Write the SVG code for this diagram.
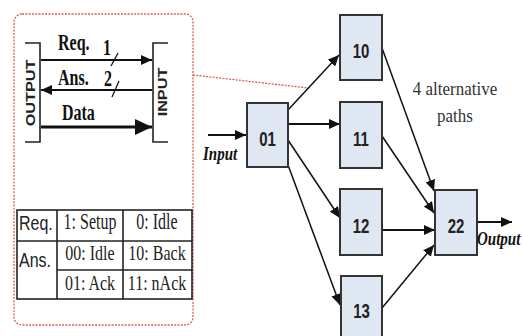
<svg xmlns="http://www.w3.org/2000/svg" width="523" height="336" viewBox="0 0 523 336">
<style>
.red{fill:none;stroke:#e05a5a;stroke-width:1.3;stroke-dasharray:2 1.3}
.node rect{fill:#dfe7f3;stroke:#333;stroke-width:2}
.nt{font-family:"Liberation Sans",Arial,sans-serif;font-weight:bold;font-size:15px;fill:#222;text-anchor:middle}
.ln{stroke:#111;fill:none}
.thin{stroke-width:1.5}
.thick{stroke-width:2.2}
.tb{font-family:"Liberation Serif","Times New Roman",serif;font-size:16px;fill:#222}
.tbb{font-family:"Liberation Serif","Times New Roman",serif;font-size:16px;font-weight:bold;fill:#111}
.ts{font-family:"Liberation Sans",Arial,sans-serif;font-size:16px;fill:#222}
.vt{font-family:"Liberation Sans",Arial,sans-serif;font-size:12.5px;font-weight:bold;fill:#222;text-anchor:middle}
.alt{font-family:"Liberation Serif","Times New Roman",serif;font-size:17px;fill:#333;text-anchor:middle}
.io{font-family:"Liberation Serif","Times New Roman",serif;font-size:15px;font-weight:bold;font-style:italic;fill:#111}
.grid{stroke:#222;stroke-width:1.6;fill:none}
</style>
<defs>
<marker id="ah" markerUnits="userSpaceOnUse" markerWidth="12" markerHeight="10" refX="11" refY="5" orient="auto">
<path d="M0,0 L11,5 L0,10 z" fill="#111"/>
</marker>
<marker id="ahb" markerUnits="userSpaceOnUse" markerWidth="18" markerHeight="16" refX="17" refY="8" orient="auto">
<path d="M0,0 L17,8 L0,16 z" fill="#111"/>
</marker>
</defs>
<rect width="523" height="336" fill="#fff"/>

<g id="panel">
<rect class="red" x="14" y="14" width="179" height="311" rx="8"/>
<line class="red" x1="193" y1="75" x2="308" y2="88"/>
<path class="grid" d="M25,43 H40 V142 H25"/>
<path class="grid" d="M168,43 H153 V142 H168"/>
<text class="vt" transform="translate(34.5 93) rotate(-90) scale(1.3 1)">OUTPUT</text>
<text class="vt" transform="translate(166.5 92) rotate(-90) scale(1.3 1)">INPUT</text>
<line class="ln" stroke-width="1.8" x1="41" y1="60" x2="152" y2="60" marker-end="url(#ah)"/>
<line class="ln" stroke-width="1.8" x1="152" y1="90" x2="41" y2="90" marker-end="url(#ah)"/>
<line class="ln" stroke-width="3" x1="41" y1="127" x2="152" y2="127" marker-end="url(#ahb)"/>
<line class="ln" stroke-width="1.3" x1="111" y1="66" x2="118" y2="53"/>
<line class="ln" stroke-width="1.3" x1="112" y1="97" x2="119" y2="81"/>
<text class="tbb" transform="translate(58 50) scale(1 1.4)">Req.</text>
<text class="tbb" transform="translate(103 55) scale(1 1.4)">1</text>
<text class="tbb" transform="translate(58 85) scale(1 1.4)">Ans.</text>
<text class="tbb" transform="translate(104 86) scale(1 1.4)">2</text>
<text class="tbb" transform="translate(62 120) scale(1 1.4)">Data</text>

<rect class="grid" x="17" y="210" width="175" height="89"/>
<line class="grid" x1="57" y1="210" x2="57" y2="299"/>
<line class="grid" x1="123" y1="210" x2="123" y2="299"/>
<line class="grid" stroke-width="2.4" x1="17" y1="241" x2="192" y2="241"/>
<line class="grid" stroke-width="2" x1="57" y1="270" x2="192" y2="270"/>
<text class="ts" transform="translate(19 230) scale(1 1.3)">Req.</text>
<text class="ts" transform="translate(19 267) scale(1 1.3)">Ans.</text>
<text class="tb" text-anchor="middle" transform="translate(90 229) scale(1 1.4)">1: Setup</text>
<text class="tb" text-anchor="middle" transform="translate(157 229) scale(1 1.4)">0: Idle</text>
<text class="tb" text-anchor="middle" transform="translate(90 260) scale(1 1.3)">00: Idle</text>
<text class="tb" text-anchor="middle" transform="translate(157 260) scale(1 1.3)">10: Back</text>
<text class="tb" text-anchor="middle" transform="translate(90 290) scale(1 1.3)">01: Ack</text>
<text class="tb" text-anchor="middle" transform="translate(157 290) scale(1 1.3)">11: nAck</text>
</g>

<g id="connectors">
<line class="ln thick" x1="208" y1="135" x2="246" y2="135" marker-end="url(#ah)"/>
<line class="ln thin" x1="288" y1="110" x2="339" y2="55" marker-end="url(#ah)"/>
<line class="ln thick" x1="288" y1="124" x2="340" y2="124" marker-end="url(#ah)"/>
<line class="ln thin" x1="288" y1="140" x2="340" y2="218" marker-end="url(#ah)"/>
<line class="ln thin" x1="288" y1="165" x2="340" y2="305" marker-end="url(#ah)"/>
<line class="ln thin" x1="382" y1="48" x2="434" y2="191" marker-end="url(#ah)"/>
<line class="ln thin" x1="382" y1="136" x2="434" y2="213" marker-end="url(#ah)"/>
<line class="ln thick" x1="382" y1="230" x2="435" y2="230" marker-end="url(#ah)"/>
<line class="ln thin" x1="382" y1="308" x2="434" y2="245" marker-end="url(#ah)"/>
<line class="ln thick" x1="477" y1="222" x2="512" y2="222" marker-end="url(#ah)"/>
</g>

<g id="n01" class="node"><rect x="247" y="103" width="41" height="64"/><text class="nt" transform="translate(267.5 145.5) scale(1 1.4)">01</text></g>
<g id="n10" class="node"><rect x="340" y="15" width="42" height="65"/><text class="nt" transform="translate(361 58) scale(1 1.4)">10</text></g>
<g id="n11" class="node"><rect x="340" y="102" width="42" height="66"/><text class="nt" transform="translate(361 145.5) scale(1 1.4)">11</text></g>
<g id="n12" class="node"><rect x="340" y="189" width="42" height="66"/><text class="nt" transform="translate(361 232.5) scale(1 1.4)">12</text></g>
<g id="n13" class="node"><rect x="341" y="276" width="41" height="66"/><text class="nt" transform="translate(361.5 317.5) scale(1 1.4)">13</text></g>
<g id="n22" class="node"><rect x="435" y="190" width="42" height="65"/><text class="nt" transform="translate(456 233) scale(1 1.4)">22</text></g>

<text class="io" transform="translate(203 160) scale(1 1.3)">Input</text>
<text class="io" transform="translate(477 245) scale(1 1.3)">Output</text>
<text class="alt" transform="translate(455 95) scale(1 1.15)">4 alternative</text>
<text class="alt" transform="translate(455 122) scale(1 1.15)">paths</text>
</svg>
